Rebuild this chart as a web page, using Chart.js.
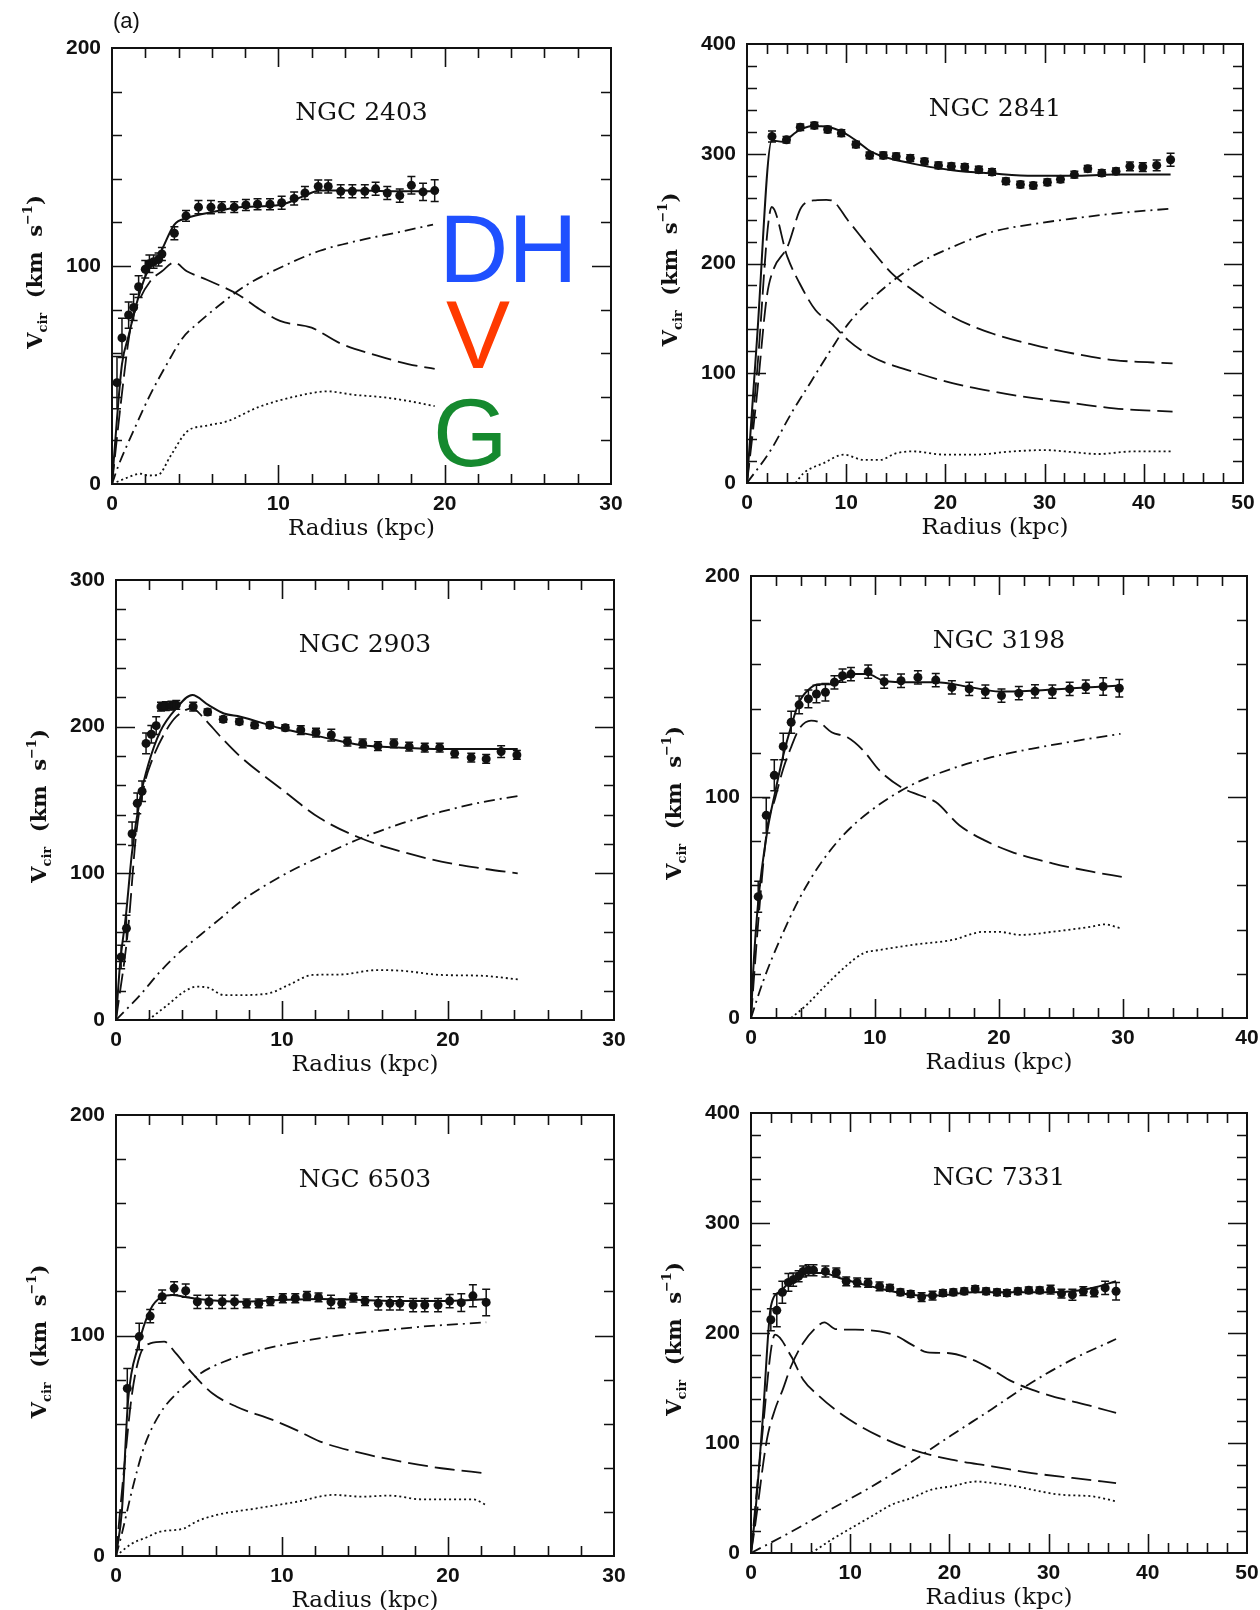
<!DOCTYPE html>
<html>
<head>
<meta charset="utf-8">
<script src="https://cdn.jsdelivr.net/npm/chart.js@4.4.1/dist/chart.umd.min.js"></script>
<style>
  html, body { margin:0; padding:0; background:#fff; width:1260px; height:1610px; overflow:hidden; }
  body { position:relative; }
  canvas { position:absolute; }
  .tag { position:absolute; font-family:"Liberation Sans", Arial, sans-serif; line-height:1; white-space:nowrap; }
</style>
</head>
<body>
<canvas id="p2403"></canvas>
<canvas id="p2841"></canvas>
<canvas id="p2903"></canvas>
<canvas id="p3198"></canvas>
<canvas id="p6503"></canvas>
<canvas id="p7331"></canvas>

<div class="tag" style="left:113px;top:10px;font-size:22px;color:#111;">(a)</div>
<div class="tag" style="left:439px;top:201px;font-size:96px;color:#1f50ff;">DH</div>
<div class="tag" style="left:446px;top:287px;font-size:96px;color:#ff3a00;">V</div>
<div class="tag" style="left:433px;top:385px;font-size:96px;color:#15892e;">G</div>

<script>
/* ── 관측값 [r(kpc), v(km/s), 오차] / 모델 곡선 [r, v] ── */

/* NGC 2403 */
const n2403Obs = [[0.3,46.5,12],[0.6,67,9],[1.0,77.5,6],[1.3,81,6],[1.6,90.5,5],[2.0,98.5,4],[2.25,101,4],[2.5,102,3],[2.8,103,3],[3.0,105.5,3],[3.75,115,3],[4.45,123,2.5],[5.2,127,3],[5.95,127,3],[6.6,127,2.5],[7.35,127,2.5],[8.05,128,2.5],[8.75,128.3,2.5],[9.5,128.3,2.5],[10.2,129,3],[10.95,131,3],[11.6,133.5,3],[12.4,136.5,3],[13.0,136.5,3],[13.75,134.3,3],[14.45,134.3,3],[15.2,134.3,3],[15.85,135.4,3],[16.55,133.5,3],[17.3,132.3,3],[18.0,137,4],[18.7,134,4],[19.4,134.6,5]];
const n2403Total = [[0,0],[0.3,30],[0.6,55],[1.0,68],[1.45,82],[2.05,96],[2.9,106],[3.75,119],[4.5,122],[6.2,125],[7.65,127],[10.1,128],[11.5,132],[12.5,134.6],[14.9,134.6],[17.35,134.3],[19.4,134.3]];
const n2403Disk = [[0,0],[0.5,35],[1.1,71],[1.6,83.5],[2.3,93],[3.0,97.6],[3.75,101.6],[4.5,97.6],[5.7,93.7],[7.65,86.6],[8.85,80.3],[10.1,74.8],[12,71.7],[13.7,64.6],[15.9,59],[17.8,55],[19.4,52.8]];
const n2403Halo = [[0,0],[0.36,7.9],[1.33,25],[2.3,41],[3.3,55],[4.25,67],[5.2,74],[6.7,83.5],[8.1,91.3],[10.1,99.2],[12.5,107],[14.9,111.8],[17.35,115.7],[19.3,119]];
const n2403Gas = [[0,0],[0.85,2.7],[1.7,4.7],[2.2,3.9],[2.8,4.3],[3.5,12.6],[4.5,24],[5.7,26.8],[6.9,28.7],[8.85,35.4],[11.05,40.2],[13,42.5],[14.45,41],[16.4,39.7],[17.8,38.1],[19.4,35.7]];

/* NGC 2841 */
const n2841Obs = [[2.52,315.8,5],[3.98,312.7,3],[5.37,324.2,3],[6.79,325.8,3],[8.13,322.1,3],[9.51,318.8,3],[10.98,308.5,3],[12.36,298.5,3],[13.74,298.5,3],[15.04,297.6,3],[16.46,296,3],[17.89,293,3],[19.3,289.4,3],[20.6,288.5,3],[21.95,287.9,3],[23.37,285.5,3],[24.7,283.3,3],[26.1,275,3],[27.56,272,3],[28.86,271,3],[30.28,274,3],[31.6,276.7,3],[33.0,281,3],[34.35,286.4,3],[35.77,282.4,3],[37.2,284,3],[38.6,288.5,4],[39.9,287.9,4],[41.3,289.4,5],[42.7,294.5,6]];
const n2841Total = [[0,0],[1.0,130],[2.5,312],[3.6,311],[5.0,320],[6.5,325],[7.5,325],[9.35,321],[11,312],[12.6,301.5],[16.7,291],[20.7,285],[24.8,282],[28.9,280],[32.9,280],[37,281],[42.7,281]];
const n2841Bulge = [[0,0],[1.0,100],[2.5,251.5],[4.07,206],[5.3,182],[6.9,157.6],[8.5,145.5],[10.2,130],[12.6,115],[16.7,101.5],[20.7,91],[24.8,83.3],[28.9,77.3],[32.9,72.7],[37,68],[42.9,65]];
const n2841Disk = [[0,0],[1.0,80],[2.0,170],[2.64,194],[4.07,215],[5.5,251.5],[6.9,257.6],[8.0,258],[8.5,257.6],[10.2,239],[12.6,212],[14.6,191],[16.7,175.8],[20.7,151.5],[24.8,136],[28.9,125.8],[32.9,118],[37,112],[42.9,109]];
const n2841Halo = [[0,0],[2.4,30],[4.5,64],[6.5,93],[8.5,122],[10.2,145],[12.6,168],[16.7,197],[20.7,215],[24.8,229],[28.9,236],[32.9,241],[37,245.5],[42.7,250]];
const n2841Gas = [[4.9,0],[5.7,9],[7.7,18],[9.75,25.8],[11.8,21],[13.4,21],[15,27],[16.7,28.8],[20,25.8],[22.8,25.8],[26.8,28.8],[30,30],[33,28],[35.4,26.4],[39,28.8],[42.7,28.8]];

/* NGC 2903 */
const n2903Obs = [[0.31,43,8],[0.63,62.5,9],[0.97,127,8],[1.28,147.7,7],[1.57,156,7],[1.81,188.6,7],[2.13,194.8,6],[2.42,200.7,6],[2.71,213.6,3],[3.0,214,3],[3.34,214.3,3],[3.63,214.8,3],[4.65,213.6,3],[5.52,210,2],[6.46,205,2],[7.43,203.4,2],[8.35,201,2],[9.27,201,2],[10.2,199.3,2],[11.13,197.7,3],[12.05,196,3],[12.97,194.3,4],[13.94,189.8,3],[14.86,188.6,3],[15.78,186.8,3],[16.74,188.6,3],[17.66,186.4,3],[18.6,185.7,3],[19.5,185.7,3],[20.4,181.8,3],[21.4,178.9,3],[22.3,178,3],[23.2,183,4],[24.15,180.7,3]];
const n2903Total = [[0,0],[0.24,37.5],[0.6,71.6],[0.97,114.8],[1.45,151],[1.94,174],[2.66,196.6],[3.63,212.5],[4.6,221.6],[5.56,214.8],[6.5,209],[7.5,206.8],[9.9,198.9],[12.3,193.2],[14.75,187.5],[17.2,185.7],[19.6,184.8],[24.2,184.8]];
const n2903Disk = [[0,0],[0.73,62],[1.2,125],[1.7,160],[2.2,178],[2.9,195],[3.63,206.8],[4.6,212.5],[5.3,205.7],[6.3,193.2],[7.5,179.5],[9.9,158],[12.3,137.5],[14.75,123.9],[17.2,114.8],[19.6,108],[22,103.4],[24.2,100]];
const n2903Halo = [[0,0],[1.45,17],[2.66,33],[3.87,46.6],[5.08,58],[6.3,69.3],[7.5,80.7],[9.9,97.7],[12.3,111.4],[14.75,123.9],[17.2,134],[19.6,142],[22,148.4],[24.2,152.7]];
const n2903Gas = [[1.94,0],[3.1,10.2],[4.1,19.3],[4.84,22.7],[5.56,22],[6.5,17],[7.5,17],[9.2,18.2],[10.4,23.9],[11.85,30.7],[13.5,31],[15.7,34],[17.2,33.6],[19.6,30.7],[22,30.2],[24.2,27.7]];

/* NGC 3198 */
const n3198Obs = [[0.58,54.9,7],[1.23,91.7,8],[1.88,109.8,7],[2.6,122.9,6],[3.24,133.8,5],[3.88,141.7,4],[4.63,144.4,4],[5.28,146.6,4],[6.0,147.4,4],[6.73,151.9,3],[7.38,154.9,3],[8.06,155.6,3],[9.45,156.7,3],[10.74,152.2,3],[12.1,152.6,3],[13.46,154.1,3],[14.9,152.9,3],[16.2,149.6,3],[17.6,148.9,3],[18.9,147.7,3],[20.2,145.9,3],[21.6,147,3],[22.9,147.8,3],[24.3,147.7,3],[25.7,148.9,3],[27.0,149.9,3],[28.4,150,4],[29.7,149.2,4]];
const n3198Total = [[0,0],[0.16,19.5],[0.58,52.6],[1.3,84],[1.94,102],[2.6,118.8],[3.24,132],[3.88,142.9],[4.7,148.9],[5.5,151],[6.5,151],[7.44,153.4],[8.4,155.6],[9.4,155.6],[10.7,152.6],[12.9,151.9],[14.9,151.9],[17.8,149.6],[20,147.7],[22.6,148.1],[25.9,149.2],[29.8,150.4]];
const n3198Disk = [[0,0],[0.65,48],[1.3,85.7],[1.94,99.2],[2.6,112.8],[3.24,122.6],[3.88,130.8],[4.85,134.6],[5.5,133.8],[6.5,129.3],[7.77,127],[9.06,121],[10.36,112],[12.3,103.8],[13.6,100.8],[14.9,97.7],[16.8,87.2],[18.8,80.5],[21,75.2],[24.3,70],[27.5,66.2],[29.9,63.9]];
const n3198Halo = [[0,0],[0.97,16.5],[2.27,34.6],[3.9,54],[5.5,69],[7.44,82.7],[9.7,94],[12.9,105.3],[16.2,112.8],[19.4,118],[22.6,121.8],[25.9,125.1],[29.8,128.6]];
const n3198Gas = [[3.24,0],[4.5,6],[5.8,13.5],[7.77,24],[9.06,29.3],[10.4,30.8],[12.9,33],[16.2,35.3],[18.8,39],[20,39],[21.7,37.6],[24.3,39],[27.5,41.4],[28.5,42.4],[29.8,40.6]];

/* NGC 6503 */
const n6503Obs = [[0.68,76,9],[1.4,99.5,6],[2.06,108.8,3],[2.78,117.6,3],[3.5,121.4,3],[4.2,120.3,3],[4.9,115.3,3],[5.6,115.3,3],[6.4,115.3,3],[7.14,115.3,3],[7.87,114.6,2],[8.6,114.6,2],[9.3,115.6,2],[10.05,116.9,2],[10.8,116.9,2],[11.5,117.9,2],[12.2,117.3,2],[12.95,115.3,3],[13.6,114.6,2],[14.3,117.2,2],[15.0,115.6,2],[15.8,114.6,3],[16.5,114.6,3],[17.1,114.6,3],[17.9,113.8,3],[18.6,113.8,3],[19.4,113.8,3],[20.1,115.6,3],[20.8,114.9,4],[21.5,118,5],[22.3,115,6]];
const n6503Total = [[0,0],[0.36,20.9],[0.73,70.7],[1.33,95],[2.06,111.6],[2.78,117.6],[3.39,118.4],[4.1,117.6],[5.08,116.4],[7.5,115.3],[9.9,116.1],[12.3,116.6],[14.8,116.1],[17.2,115.6],[19.6,115.6],[22.3,116.4]];
const n6503Disk = [[0,0],[0.48,39],[0.97,73.8],[1.45,91.2],[2.06,96.4],[2.9,97.2],[3.6,92],[4.6,82.8],[5.8,73.8],[7.26,67.7],[9.44,61.7],[10.9,57],[12.3,51.9],[14.8,46.6],[17.2,42.8],[19.6,39.8],[22.3,37.5]];
const n6503Halo = [[0,0],[0.36,10.3],[0.97,29.9],[1.7,49.6],[2.66,64.7],[3.87,75.3],[5.08,82.8],[6.5,88.1],[8.7,93.4],[11.1,97.2],[13.6,100.2],[16,102.2],[18.4,104],[22.3,106]];
const n6503Gas = [[0,0],[0.97,5.7],[1.7,8],[2.66,11],[4.1,12.5],[4.84,15.6],[6.05,18.6],[8.47,21.6],[10.9,24.6],[13.1,27.7],[14.8,26.9],[16.5,27.4],[18.4,25.7],[21.5,25.7],[22.3,23.1]];

/* NGC 7331 */
const n7331Obs = [[2.0,212,10],[2.6,220.6,15],[3.16,237,10],[3.77,246,8],[4.25,248.5,6],[4.8,251.5,5],[5.26,256,5],[5.8,257,5],[6.3,257,5],[7.5,256,5],[8.6,255,4],[9.6,247,4],[10.7,246,4],[11.8,245.5,4],[12.96,242.4,4],[14.0,241,3],[15.06,237,3],[16.1,235.5,3],[17.2,232.7,4],[18.3,234,4],[19.35,236.4,3],[20.4,237,3],[21.5,238,3],[22.6,240,3],[23.7,238,3],[24.8,237,3],[25.8,236.4,3],[26.9,238,3],[28.0,238.8,3],[29.1,238.8,3],[30.2,239.4,4],[31.3,235.8,4],[32.4,234.8,5],[33.5,238,4],[34.6,237,4],[35.7,241,6],[36.8,238,8]];
const n7331Total = [[0,0],[0.4,33],[1.2,124],[2.0,224],[3.0,238],[4.05,248.5],[5.26,254.5],[7.3,254.5],[8.9,250],[12.1,242.4],[16.2,234.8],[18.6,234],[22.3,237],[26.3,237],[30.4,237],[32.4,238],[34.4,241],[36.8,247]];
const n7331Bulge = [[0,0],[1.0,95],[2.43,198.5],[4.05,178.8],[5.26,157.6],[6.9,142.4],[8.5,130.3],[10.5,118],[12.96,106],[16.2,94],[20.2,84.8],[24.3,78.8],[28.3,72.7],[32.4,68.2],[36.8,63.6]];
const n7331Disk = [[0,0],[0.4,24],[1.6,103],[2.4,130],[3.2,148.5],[4.05,170],[5.26,191],[6.5,204.5],[7.4,209.7],[8.5,203.6],[10.5,203],[12.96,201.5],[14.6,197.6],[16.2,189.4],[17.8,182.4],[19.8,181.8],[22.3,175.8],[24.3,166.7],[26.3,156],[28.3,148.5],[30.4,142.4],[32.4,137.9],[34.4,133.3],[36.8,127.3]];
const n7331Halo = [[0,0],[4,19],[8.1,40],[12.1,60],[16.2,83],[20.2,107],[24.3,131],[28.3,155],[32.4,176],[36.8,194.5]];
const n7331Gas = [[6.1,0],[8.1,12],[10.1,22.7],[12.1,33],[14.2,44],[16.2,50],[18.2,57.6],[20.2,60.6],[22.7,65],[24.3,63.6],[26.7,60.6],[28.3,57.6],[31.2,53],[34.4,51.5],[36.8,47]];

/* ── 패널 배치 (프레임 픽셀 위치) ── */
const PANELS = [
  { id:'p2403', name:'NGC 2403', L:112, T:48,   W:499, H:436, xMax:30, yMax:200,
    obs:n2403Obs, curves:[[n2403Total,'solid'],[n2403Disk,'dash'],[n2403Halo,'dotdash'],[n2403Gas,'dot']] },
  { id:'p2841', name:'NGC 2841', L:747, T:44,   W:496, H:439, xMax:50, yMax:400,
    obs:n2841Obs, curves:[[n2841Total,'solid'],[n2841Bulge,'dash'],[n2841Disk,'dash'],[n2841Halo,'dotdash'],[n2841Gas,'dot']] },
  { id:'p2903', name:'NGC 2903', L:116, T:580,  W:498, H:440, xMax:30, yMax:300,
    obs:n2903Obs, curves:[[n2903Total,'solid'],[n2903Disk,'dash'],[n2903Halo,'dotdash'],[n2903Gas,'dot']] },
  { id:'p3198', name:'NGC 3198', L:751, T:576,  W:496, H:442, xMax:40, yMax:200,
    obs:n3198Obs, curves:[[n3198Total,'solid'],[n3198Disk,'dash'],[n3198Halo,'dotdash'],[n3198Gas,'dot']] },
  { id:'p6503', name:'NGC 6503', L:116, T:1115, W:498, H:441, xMax:30, yMax:200,
    obs:n6503Obs, curves:[[n6503Total,'solid'],[n6503Disk,'dash'],[n6503Halo,'dotdash'],[n6503Gas,'dot']] },
  { id:'p7331', name:'NGC 7331', L:751, T:1113, W:496, H:440, xMax:50, yMax:400,
    obs:n7331Obs, curves:[[n7331Total,'solid'],[n7331Bulge,'dash'],[n7331Disk,'dash'],[n7331Halo,'dotdash'],[n7331Gas,'dot']] },
];

const INK = '#111';
const PAD_L = 100, PAD_T = 30, PAD_R = 30, PAD_B = 40, XAX_H = 40;
const TICK_FONT = { family:'"Liberation Sans", Arial, sans-serif', size:21, weight:'bold' };
const SERIF = '"DejaVu Serif", "Liberation Serif", serif';

const DASH = {
  solid  : { dash:[],            width:2.0 },
  dash   : { dash:[20, 7],       width:1.8 },
  dotdash: { dash:[11, 5, 2, 5], width:1.8 },
  dot    : { dash:[2, 3],        width:1.8 },
};

/* ── 프레임 + 안쪽 눈금 + 텍스트 ── */
const framePlugin = {
  id: 'frame',
  afterDraw(chart) {
    const { ctx, chartArea: a, scales: { x, y } } = chart;
    const p = chart.options.plugins.frame;
    ctx.save();
    ctx.strokeStyle = INK;
    ctx.lineWidth = 2;
    ctx.strokeRect(a.left, a.top, a.right - a.left, a.bottom - a.top);

    ctx.lineWidth = 1.6;
    ctx.beginPath();
    const nx = Math.round(x.max / 2);
    for (let i = 1; i < nx; i++) {
      const px = Math.round(x.getPixelForValue(i * 2)) + 0.5;
      const len = (i % 5 === 0) ? 19 : 10;
      ctx.moveTo(px, a.bottom); ctx.lineTo(px, a.bottom - len);
      ctx.moveTo(px, a.top);    ctx.lineTo(px, a.top + len);
    }
    const ny = Math.round(y.max / 20);
    for (let i = 1; i < ny; i++) {
      const py = Math.round(y.getPixelForValue(i * 20)) + 0.5;
      const len = (i % 5 === 0) ? 19 : 10;
      ctx.moveTo(a.left, py);  ctx.lineTo(a.left + len, py);
      ctx.moveTo(a.right, py); ctx.lineTo(a.right - len, py);
    }
    ctx.stroke();

    const cx = (a.left + a.right) / 2;
    ctx.fillStyle = INK;
    ctx.textAlign = 'center';
    ctx.textBaseline = 'middle';
    ctx.font = '25px ' + SERIF;
    ctx.fillText(p.name, cx, a.top + 65);
    ctx.font = '23px ' + SERIF;
    ctx.fillText('Radius (kpc)', cx, a.bottom + 45);

    /* V_cir (km s^-1) — 회전, 아래첨자/위첨자 */
    const big = 'bold 21px ' + SERIF, small = 'bold 13px ' + SERIF;
    const parts = [
      ['V', big, 0], ['cir', small, 5], ['  (km  s', big, 0], ['\u22121', small, -10], [')', big, 0],
    ];
    let total = 0;
    parts.forEach(pt => { ctx.font = pt[1]; pt.push(ctx.measureText(pt[0]).width); total += pt[3]; });
    ctx.translate(a.left - 77, (a.top + a.bottom) / 2 + 6);
    ctx.rotate(-Math.PI / 2);
    ctx.textAlign = 'left';
    ctx.textBaseline = 'alphabetic';
    let cur = -total / 2;
    parts.forEach(pt => {
      ctx.font = pt[1];
      ctx.fillText(pt[0], cur, 7 + pt[2]);
      cur += pt[3];
    });
    ctx.restore();
  }
};

/* ── 오차 막대 ── */
const errPlugin = {
  id: 'errbars',
  afterDatasetsDraw(chart) {
    const { ctx, scales: { x, y } } = chart;
    chart.data.datasets.forEach(ds => {
      if (!ds.errors) return;
      ctx.save();
      ctx.strokeStyle = INK;
      ctx.lineWidth = 1.5;
      ctx.beginPath();
      ds.data.forEach((pt, i) => {
        const e  = ds.errors[i];
        const px = x.getPixelForValue(pt.x);
        const y1 = y.getPixelForValue(pt.y - e);
        const y2 = y.getPixelForValue(pt.y + e);
        ctx.moveTo(px, y1); ctx.lineTo(px, y2);
        ctx.moveTo(px - 4, y1); ctx.lineTo(px + 4, y1);
        ctx.moveTo(px - 4, y2); ctx.lineTo(px + 4, y2);
      });
      ctx.stroke();
      ctx.restore();
    });
  }
};

function toXY(arr) { return arr.map(p => ({ x: p[0], y: p[1] })); }

PANELS.forEach(P => {
  const cv = document.getElementById(P.id);
  const cw = P.W + PAD_L + PAD_R;
  const ch = P.H + PAD_T + XAX_H + PAD_B;
  cv.width = cw; cv.height = ch;
  cv.style.left = (P.L - PAD_L) + 'px';
  cv.style.top  = (P.T - PAD_T) + 'px';
  cv.style.width = cw + 'px'; cv.style.height = ch + 'px';

  const datasets = P.curves.map(([arr, kind]) => ({
    data: toXY(arr),
    borderColor: INK,
    borderWidth: DASH[kind].width,
    borderDash : DASH[kind].dash,
    pointRadius: 0,
    fill: false,
    cubicInterpolationMode: 'monotone',
  }));
  datasets.push({
    data: toXY(P.obs),
    errors: P.obs.map(p => p[2]),
    showLine: false,
    pointRadius: 4.5,
    pointBackgroundColor: INK,
    pointBorderColor: INK,
    pointBorderWidth: 0,
  });

  new Chart(cv, {
    type: 'line',
    data: { datasets },
    options: {
      responsive: false,
      animation: false,
      devicePixelRatio: 1,
      layout: { padding: { left: 0, top: PAD_T, right: PAD_R, bottom: PAD_B } },
      plugins: {
        legend : { display: false },
        tooltip: { enabled: false },
        frame  : { name: P.name },
      },
      scales: {
        x: {
          type: 'linear', min: 0, max: P.xMax,
          grid: { display: false, drawTicks: false, tickLength: 0 }, border: { display: false },
          ticks: { stepSize: 10, font: TICK_FONT, color: INK, padding: 8, maxRotation: 0, autoSkip: false },
          afterFit(s) { s.height = XAX_H; },
        },
        y: {
          type: 'linear', min: 0, max: P.yMax,
          grid: { display: false, drawTicks: false, tickLength: 0 }, border: { display: false },
          ticks: { stepSize: 100, font: TICK_FONT, color: INK, padding: 11 },
          afterFit(s) { s.width = PAD_L; },
        },
      },
    },
    plugins: [framePlugin, errPlugin],
  });
});
</script>
</body>
</html>
